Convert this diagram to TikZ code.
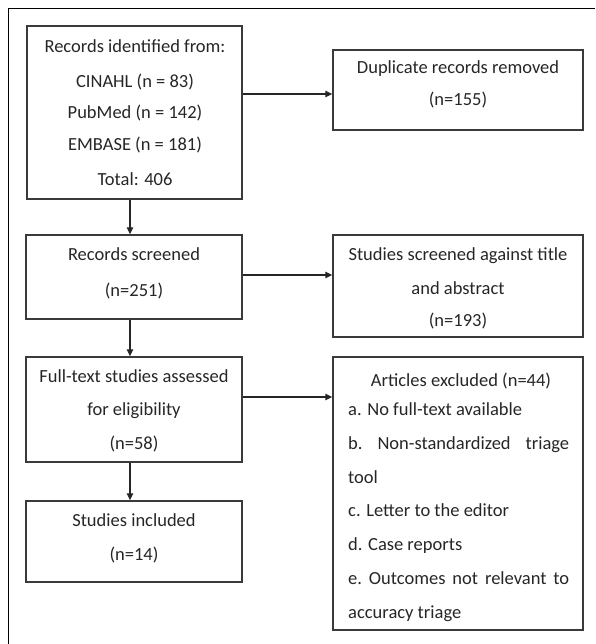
\documentclass[tikz,border=0pt]{standalone}
\usepackage{fontspec}
\setmainfont{Carlito}
\usetikzlibrary{arrows.meta}
\definecolor{ink}{HTML}{262626}
\definecolor{frame}{HTML}{3A3A3A}
\begin{document}
\begin{tikzpicture}[x=1pt,y=-1pt,
  box/.style={draw=frame,line width=1.4pt,rectangle,inner sep=0pt},
  txt/.style={inner sep=0pt,anchor=base,text=ink,font=\fontsize{18.5}{22}\selectfont},
  ltxt/.style={txt,anchor=base west},
  arr/.style={draw=ink,line width=1.2pt,-{Triangle[length=7pt,width=6.5pt]}}]
\useasboundingbox (0,0) rectangle (595,644);
% outer frame (left and top edges)
\draw[black,line width=1pt] (8,644) -- (8,9) -- (595,9);

% boxes
\node[box,minimum width=215pt,minimum height=173pt] (b1) at (134.5,112.5) {};
\node[box,minimum width=250pt,minimum height=80pt]  (b2) at (458,90) {};
\node[box,minimum width=216pt,minimum height=84pt]  (b3) at (134,277) {};
\node[box,minimum width=250pt,minimum height=102pt] (b4) at (458,286) {};
\node[box,minimum width=216pt,minimum height=105pt] (b5) at (134,409.5) {};
\node[box,minimum width=250pt,minimum height=273pt] (b6) at (458,493.5) {};
\node[box,minimum width=216pt,minimum height=81pt]  (b7) at (134,541.5) {};

% identification
\node[txt] (t11) at (135,53) {Records identified from:};
\node[txt] (t12) at (135,87.5) {CINAHL (n = 83)};
\node[txt] (t13) at (135,118.5) {PubMed (n = 142)};
\node[txt] (t14) at (135,150.5) {EMBASE (n = 181)};
\node[txt] (t15) at (135,185.5) {Total: 406};
\node[txt] (t21) at (458,74) {Duplicate records removed};
\node[txt] (t22) at (458,105.5) {(n=155)};

% screening
\node[txt] (t31) at (134,260) {Records screened};
\node[txt] (t32) at (134,296) {(n=251)};
\node[txt] (t41) at (458,260.5) {Studies screened against title};
\node[txt] (t42) at (458,294) {and abstract};
\node[txt] (t43) at (458,326) {(n=193)};

% eligibility
\node[txt] (t51) at (134,382.5) {Full-text studies assessed};
\node[txt] (t52) at (134,415) {for eligibility};
\node[txt] (t53) at (134,449) {(n=58)};
\node[txt] (t61) at (461,386.5) {Articles excluded (n=44)};
\node[ltxt] (t62) at (348,415) {a. No full-text available};
\node[ltxt] (t63) at (348,449) {\hbox to 221pt{b.\hfill Non-standardized\hfill triage}};
\node[ltxt] (t64) at (348,483) {tool};
\node[ltxt] (t65) at (348,516) {c. Letter to the editor};
\node[ltxt] (t66) at (348,550) {d. Case reports};
\node[ltxt] (t67) at (348,584) {\hbox to 221pt{e.\hfill Outcomes\hfill not\hfill relevant\hfill to}};
\node[ltxt] (t68) at (348,618) {accuracy triage};

% included
\node[txt] (t71) at (134,526) {Studies included};
\node[txt] (t72) at (134,560) {(n=14)};

% connectors
\draw[arr] (b1.east |- 0,94) -- (b2.west |- 0,94);
\draw[arr] (b3.east |- 0,275) -- (b4.west |- 0,275);
\draw[arr] (b5.east |- 0,397) -- (b6.west |- 0,397);
\draw[arr] (b1.south -| 130,0) -- (b3.north -| 130,0);
\draw[arr] (b3.south -| 130,0) -- (b5.north -| 130,0);
\draw[arr] (b5.south -| 130,0) -- (b7.north -| 130,0);
\end{tikzpicture}
\end{document}
